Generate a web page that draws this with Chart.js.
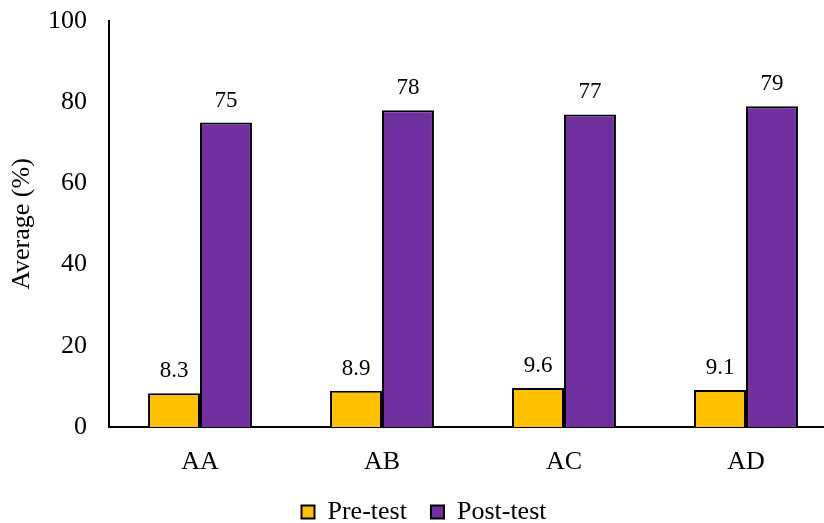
<!DOCTYPE html>
<html>
<head>
<meta charset="utf-8">
<script src="https://cdn.jsdelivr.net/npm/chart.js@4/dist/chart.umd.min.js"></script>
<style>
  html, body { margin: 0; padding: 0; background: #fff; }
  #wrap { width: 824px; height: 523px; }
</style>
</head>
<body>
<div id="wrap"><canvas id="myChart"></canvas></div>
<script>
const categories = ['AA', 'AB', 'AC', 'AD'];
const preTest = [8.3, 8.9, 9.6, 9.1];
const postTest = [75, 78, 77, 79];
const yTicks = [0, 20, 40, 60, 80, 100];

Chart.defaults.font.family = '"Liberation Serif", "Times New Roman", serif';
Chart.defaults.color = '#000';

// draw values above each bar
const valueLabels = {
  id: 'valueLabels',
  afterDatasetsDraw(chart) {
    const ctx = chart.ctx;
    ctx.save();
    ctx.font = '23px "Liberation Serif", serif';
    ctx.fillStyle = '#000';
    ctx.textAlign = 'center';
    ctx.textBaseline = 'alphabetic';
    chart.data.datasets.forEach((ds, i) => {
      chart.getDatasetMeta(i).data.forEach((bar, j) => {
        ctx.fillText(String(ds.data[j]), bar.x, bar.y - 16);
      });
    });
    ctx.restore();
  }
};

// original plot runs a bit past the right edge; legend sits close to the labels
const layoutTweaks = {
  id: 'layoutTweaks',
  afterLayout(chart) {
    const x = chart.scales.x;
    x.right += 13;
    x.width += 13;
    x.configure();
    const lg = chart.legend;
    lg.top = 475;
    lg.bottom = lg.top + lg.height;
    lg.left += 12;
    lg.right += 12;
  }
};

new Chart(document.getElementById('myChart'), {
  type: 'bar',
  data: {
    labels: categories,
    datasets: [
      {
        label: 'Pre-test',
        data: preTest,
        backgroundColor: '#FFC000',
        borderColor: '#000',
        borderWidth: 2
      },
      {
        label: 'Post-test',
        data: postTest,
        backgroundColor: '#7030A0',
        borderColor: '#000',
        borderWidth: 2
      }
    ]
  },
  options: {
    responsive: true,
    maintainAspectRatio: false,
    animation: false,
    layout: { padding: { top: 21, right: 0, left: 0, bottom: -34 } },
    datasets: {
      bar: { barPercentage: 1.0, categoryPercentage: 0.571 }
    },
    plugins: {
      legend: {
        position: 'bottom',
        labels: {
          font: { size: 26 },
          boxWidth: 13,
          boxHeight: 13,
          padding: 24,
          useBorderRadius: false
        }
      },
      tooltip: { enabled: false }
    },
    scales: {
      x: {
        afterFit(axis) {
          axis.paddingLeft = 0;
          axis.paddingRight = 0;
        },
        grid: { display: false, drawTicks: false },
        border: { color: '#000', width: 2 },
        ticks: { font: { size: 26, lineHeight: 1 }, padding: 22 }
      },
      y: {
        min: 0,
        max: 100,
        afterBuildTicks(axis) {
          axis.ticks = yTicks.map(v => ({ value: v }));
        },
        afterFit(axis) {
          axis.width = 109;
          axis.paddingTop = 0;
          axis.paddingBottom = 0;
        },
        grid: { display: false, drawTicks: false },
        border: { color: '#000', width: 2 },
        ticks: { font: { size: 26 }, padding: 22 },
        title: {
          display: true,
          text: 'Average (%)',
          font: { size: 26 },
          padding: { top: 7, bottom: 0 }
        }
      }
    }
  },
  plugins: [valueLabels, layoutTweaks]
});
</script>
</body>
</html>
